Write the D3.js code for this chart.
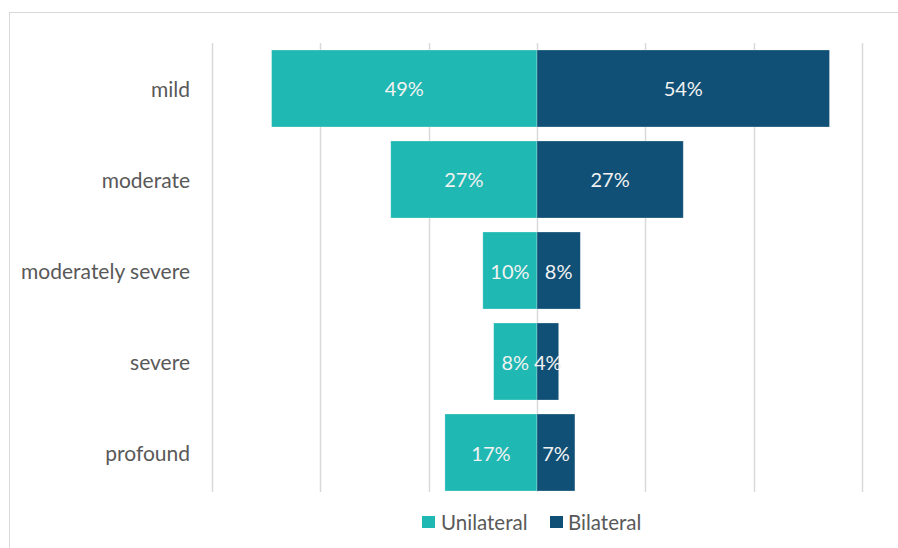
<!DOCTYPE html>
<html>
<head>
<meta charset="utf-8">
<script src="https://cdn.jsdelivr.net/npm/d3@7"></script>
<style>
  html, body { margin: 0; padding: 0; background: #fff; }
  svg { display: block; font-family: Lato, "Open Sans", sans-serif; }
</style>
</head>
<body>
<svg id="chart" width="898" height="548"></svg>
<script>
// Hearing-loss severity, share of cases by side
const categories = ["mild", "moderate", "moderately severe", "severe", "profound"];
const unilateral = [49, 27, 10, 8, 17];
const bilateral  = [54, 27, 8, 4, 7];
const seriesNames = ["Unilateral", "Bilateral"];
const gridTicks = [-60, -40, -20, 0, 20, 40, 60];

const colors = { Unilateral: "#1fb8b3", Bilateral: "#105076" };
const textGray = "#595959";

const svg = d3.select("#chart");

// outer frame
svg.append("rect")
  .attr("x", 9.5).attr("y", 12.5)
  .attr("width", 898).attr("height", 560)
  .attr("fill", "none").attr("stroke", "#d9d9d9").attr("stroke-width", 1);

const plot = { left: 212, right: 862, top: 43, bottom: 492 };

const x = d3.scaleLinear().domain([-60, 60]).range([plot.left, plot.right]);
const y = d3.scaleBand().domain(categories).range([50, 491]).paddingInner(0.154).paddingOuter(0);

// vertical gridlines
svg.append("g").selectAll("line").data(gridTicks).join("line")
  .attr("x1", d => Math.round(x(d)) + 0.5).attr("x2", d => Math.round(x(d)) + 0.5)
  .attr("y1", plot.top).attr("y2", plot.bottom)
  .attr("stroke", "#d9d9d9").attr("stroke-width", 1.5);

// category labels
svg.append("g").selectAll("text").data(categories).join("text")
  .attr("x", 190).attr("y", d => y(d) + y.bandwidth() / 2)
  .attr("text-anchor", "end").attr("dominant-baseline", "central")
  .attr("font-size", 21).attr("fill", textGray)
  .text(d => d);

const rows = categories.map((c, i) => ({ cat: c, Unilateral: unilateral[i], Bilateral: bilateral[i] }));

// left bars (unilateral)
svg.append("g").selectAll("rect").data(rows).join("rect")
  .attr("x", d => x(-d.Unilateral)).attr("y", d => y(d.cat))
  .attr("width", d => x(0) - x(-d.Unilateral)).attr("height", y.bandwidth())
  .attr("fill", colors.Unilateral).attr("stroke", "#ffffff").attr("stroke-opacity", 0.35).attr("stroke-width", 0.75);

// right bars (bilateral)
svg.append("g").selectAll("rect").data(rows).join("rect")
  .attr("x", x(0)).attr("y", d => y(d.cat))
  .attr("width", d => x(d.Bilateral) - x(0)).attr("height", y.bandwidth())
  .attr("fill", colors.Bilateral).attr("stroke", "#ffffff").attr("stroke-opacity", 0.35).attr("stroke-width", 0.75);

// value labels
const labelG = svg.append("g").attr("font-size", 20).attr("fill", "#f2f2f2")
  .attr("text-anchor", "middle").attr("dominant-baseline", "central");
labelG.selectAll("text.u").data(rows).join("text").attr("class", "u")
  .attr("x", d => (x(-d.Unilateral) + x(0)) / 2).attr("y", d => y(d.cat) + y.bandwidth() / 2)
  .text(d => d.Unilateral + "%");
labelG.selectAll("text.b").data(rows).join("text").attr("class", "b")
  .attr("x", d => (x(d.Bilateral) + x(0)) / 2).attr("y", d => y(d.cat) + y.bandwidth() / 2)
  .text(d => d.Bilateral + "%");

// legend
const legendItems = [
  { name: seriesNames[0], sx: 422, tx: 441 },
  { name: seriesNames[1], sx: 550, tx: 568 }
];
const lg = svg.append("g");
lg.selectAll("rect").data(legendItems).join("rect")
  .attr("x", d => d.sx).attr("y", 516).attr("width", 13).attr("height", 12)
  .attr("fill", d => colors[d.name]);
lg.selectAll("text").data(legendItems).join("text")
  .attr("x", d => d.tx).attr("y", 522).attr("dominant-baseline", "central")
  .attr("font-size", 20.5).attr("fill", textGray)
  .text(d => d.name);
</script>
</body>
</html>
